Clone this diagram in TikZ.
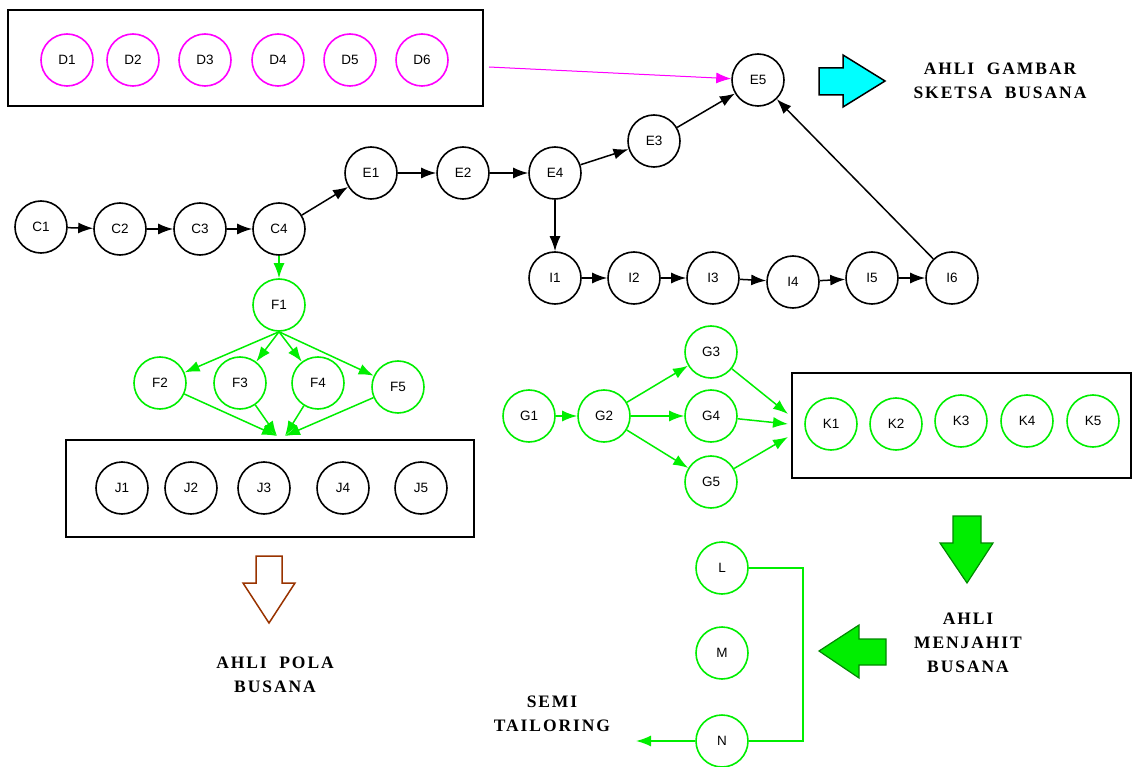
\documentclass[tikz,border=0pt]{standalone}
\usepackage{fontspec}
\setsansfont{Liberation Sans}
\newfontfamily\hdfont[LetterSpace=11]{Liberation Serif}
\usetikzlibrary{arrows.meta}
\definecolor{mag}{HTML}{FF00FF}
\definecolor{grn}{HTML}{00EE00}
\definecolor{dgrn}{HTML}{008800}
\definecolor{cyn}{HTML}{00FFFF}
\definecolor{brn}{HTML}{993300}
\tikzset{
  nd/.style={circle,draw=black,line width=1.6pt,minimum size=52pt,inner sep=0pt,font=\sffamily\fontsize{13.5}{13.5}\selectfont},
  gnd/.style={nd,draw=grn},
  mnd/.style={nd,draw=mag},
  ar/.style={line width=1.5pt,-{Latex[length=15pt,width=11pt]}},
  gar/.style={ar,draw=grn,fill=grn},
  box/.style={draw=black,line width=1.8pt},
  hd/.style={font=\hdfont\bfseries\fontsize{17.5}{24}\selectfont,align=center,inner sep=0pt},
}
\begin{document}
\begin{tikzpicture}[x=1pt,y=-1pt]
\useasboundingbox (0,0) rectangle (1132,767);
% D box
\draw[box] (8,10) rectangle (483,106);
\foreach \i/\x in {1/67,2/133,3/205,4/278,5/350,6/422}{\node[mnd] (D\i) at (\x,60) {D\i};}
\coordinate (dout) at (489,67);
% E/C chain
\node[nd] (C1) at (41,227) {C1};
\node[nd] (C2) at (120,229) {C2};
\node[nd] (C3) at (200,229) {C3};
\node[nd] (C4) at (279,229) {C4};
\node[nd] (E1) at (371,173) {E1};
\node[nd] (E2) at (463,173) {E2};
\node[nd] (E4) at (555,173) {E4};
\node[nd] (E3) at (654,141) {E3};
\node[nd] (E5) at (758,80) {E5};
\node[nd] (I1) at (555,278) {I1};
\node[nd] (I2) at (634,278) {I2};
\node[nd] (I3) at (713,278) {I3};
\node[nd] (I4) at (793,282) {I4};
\node[nd] (I5) at (872,278) {I5};
\node[nd] (I6) at (952,278) {I6};
\draw[ar] (C1) -- (C2);
\draw[ar] (C2) -- (C3);
\draw[ar] (C3) -- (C4);
\draw[ar] (C4) -- (E1);
\draw[ar] (E1) -- (E2);
\draw[ar] (E2) -- (E4);
\draw[ar] (E4) -- (E3);
\draw[ar] (E3) -- (E5);
\draw[ar] (E4) -- (I1);
\draw[ar] (I1) -- (I2);
\draw[ar] (I2) -- (I3);
\draw[ar] (I3) -- (I4);
\draw[ar] (I4) -- (I5);
\draw[ar] (I5) -- (I6);
\draw[ar] (I6) -- (E5);
\draw[ar,draw=mag,fill=mag,line width=1pt] (dout) -- (E5);
% cyan arrow
\draw[line width=1.5pt,fill=cyn] (819,68) -- (843,68) -- (843,55) -- (885,81) -- (843,107) -- (843,95) -- (819,95) -- cycle;
\node[hd] (t1) at (1000,81) {AHLI\ \ GAMBAR\\SKETSA\ \ BUSANA};
% F
\node[gnd] (F1) at (279,305) {F1};
\node[gnd] (F2) at (160,383) {F2};
\node[gnd] (F3) at (240,383) {F3};
\node[gnd] (F4) at (318,383) {F4};
\node[gnd] (F5) at (398,387) {F5};
\draw[gar] (C4) -- (F1);
\foreach \i in {2,3,4,5}{\draw[gar] (F1.south) -- (F\i);}
% J box
\draw[box] (66,440) rectangle (474,537);
\foreach \i/\x in {1/122,2/191,3/264,4/343,5/421}{\node[nd] (J\i) at (\x,488) {J\i};}
\coordinate (ja) at (277,436);
\coordinate (jb) at (285,436);
\draw[gar] (F2) -- (ja);
\draw[gar] (F3) -- (ja);
\draw[gar] (F4) -- (jb);
\draw[gar] (F5) -- (jb);
% brown arrow
\draw[brn,line width=1.5pt] (256,556) -- (282,556) -- (282,583) -- (295,583) -- (269,623) -- (243,583) -- (256,583) -- cycle;
\node[hd] (t2) at (275,675) {AHLI\ \ POLA\\BUSANA};
% G
\node[gnd] (G1) at (529,416) {G1};
\node[gnd] (G2) at (604,416) {G2};
\node[gnd] (G3) at (711,352) {G3};
\node[gnd] (G4) at (711,416) {G4};
\node[gnd] (G5) at (711,482) {G5};
\draw[gar] (G1) -- (G2);
\draw[gar] (G2) -- (G3);
\draw[gar] (G2) -- (G4);
\draw[gar] (G2) -- (G5);
% K box
\draw[box] (792,373) rectangle (1131,478);
\foreach \i/\x/\y in {1/831/424,2/896/424,3/961/421,4/1027/421,5/1093/421}{\node[gnd] (K\i) at (\x,\y) {K\i};}
\coordinate (ka) at (788,414);
\coordinate (kb) at (788,424);
\coordinate (kc) at (788,437);
\draw[gar] (G3) -- (ka);
\draw[gar] (G4) -- (kb);
\draw[gar] (G5) -- (kc);
% green arrows
\draw[dgrn,fill=grn,line width=1.2pt] (953,516) -- (981,516) -- (981,543) -- (993,543) -- (967,583) -- (940,543) -- (953,543) -- cycle;
\node[hd] (t3) at (968,643) {AHLI\\MENJAHIT\\BUSANA};
\draw[dgrn,fill=grn,line width=1.2pt] (886,639) -- (859,639) -- (859,625) -- (819,651) -- (859,678) -- (859,665) -- (886,665) -- cycle;
% L M N
\node[gnd] (L) at (722,568) {L};
\node[gnd] (M) at (722,653) {M};
\node[gnd] (N) at (722,741) {N};
\coordinate (lr) at (803,568);
\coordinate (sout) at (636,741);
\draw[grn,line width=1.5pt] (L) -- (lr) |- (N);
\draw[gar] (N) -- (sout);
\node[hd] (t4) at (552,714) {SEMI\\TAILORING};
\end{tikzpicture}
\end{document}
